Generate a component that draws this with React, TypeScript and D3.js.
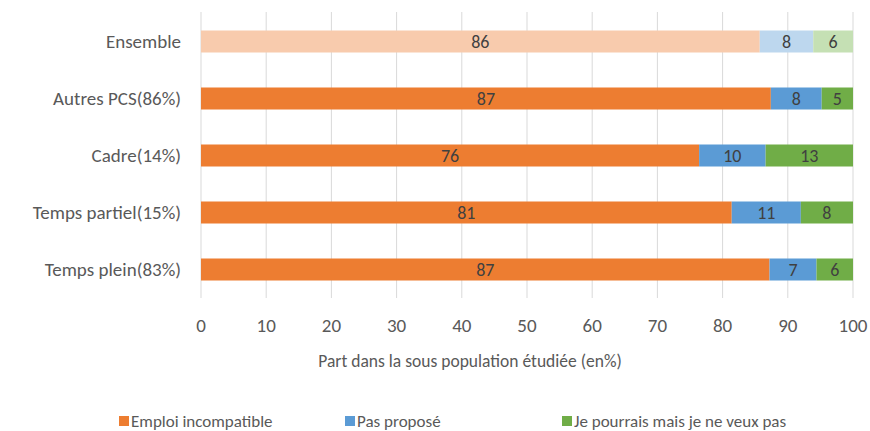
import React from "react";
import * as d3 from "d3";

const categories = ["Ensemble", "Autres PCS(86%)", "Cadre(14%)", "Temps partiel(15%)", "Temps plein(83%)"];
const emploiIncompatible = [85.7, 87.4, 76.4, 81.4, 87.2];
const pasPropose = [8.2, 7.8, 10.2, 10.6, 7.2];
const jePourrais = [6.1, 4.8, 13.4, 8.0, 5.6];
const seriesNames = ["Emploi incompatible", "Pas proposé", "Je pourrais mais je ne veux pas"];
const xTicks = [0, 10, 20, 30, 40, 50, 60, 70, 80, 90, 100];
const axisTitle = "Part dans la sous population étudiée (en%)";

const colors = ["#ED7D31", "#5B9BD5", "#70AD47"];
const lightColors = ["#F8CBAD", "#BDD7EE", "#C5E0B4"];

const W = 870;
const H = 431;
const FONT = "Carlito, Calibri, Lato, sans-serif";

export default function App() {
  const x = d3.scaleLinear().domain([0, 100]).range([201, 853]);
  const y = d3.scaleBand<string>().domain(categories).range([13, 298]).paddingInner(0.614).paddingOuter(0.307);

  const rows = categories.map((c, i) => ({
    cat: c,
    values: [emploiIncompatible[i], pasPropose[i], jePourrais[i]],
  }));
  const stack = d3.stack<any>().keys(["0", "1", "2"]).value((d: any, k: string) => d.values[+k]);
  const stacked = stack(rows);

  const legendX = [119, 345, 562];

  return (
    <svg width={W} height={H} style={{ position: "absolute", left: 0, top: 0, background: "#fff" }} fontFamily={FONT}>
      {xTicks.map((t) => (
        <line key={t} x1={x(t)} x2={x(t)} y1={12} y2={298} stroke="#d9d9d9" strokeWidth={1} />
      ))}
      {stacked.map((layer, si) =>
        layer.map((d, ci) => {
          const cat = categories[ci];
          const x0 = x(d[0]);
          const x1 = x(d[1]);
          const yy = y(cat)!;
          const val = rows[ci].values[si];
          const fill = ci === 0 ? lightColors[si] : colors[si];
          return (
            <g key={si + "-" + ci}>
              <rect x={x0} y={yy} width={x1 - x0} height={y.bandwidth()} fill={fill} />
              <text
                x={(x0 + x1) / 2}
                y={yy + y.bandwidth() / 2}
                dy="0.36em"
                textAnchor="middle"
                fontSize={18}
                fill="#404040"
              >
                {Math.round(val)}
              </text>
            </g>
          );
        })
      )}
      {categories.map((c) => (
        <text key={c} x={181} y={y(c)! + y.bandwidth() / 2} dy="0.36em" textAnchor="end" fontSize={19} fill="#595959">
          {c}
        </text>
      ))}
      {xTicks.map((t) => (
        <text key={"t" + t} x={x(t)} y={325} dy="0.36em" textAnchor="middle" fontSize={19} fill="#595959">
          {t}
        </text>
      ))}
      <text x={470} y={361} dy="0.36em" textAnchor="middle" fontSize={17.5} fill="#595959">
        {axisTitle}
      </text>
      {seriesNames.map((n, i) => (
        <g key={n}>
          <rect x={legendX[i]} y={416} width={10} height={10} fill={colors[i]} />
          <text x={legendX[i] + 12} y={421} dy="0.36em" fontSize={17} fill="#595959">
            {n}
          </text>
        </g>
      ))}
    </svg>
  );
}
